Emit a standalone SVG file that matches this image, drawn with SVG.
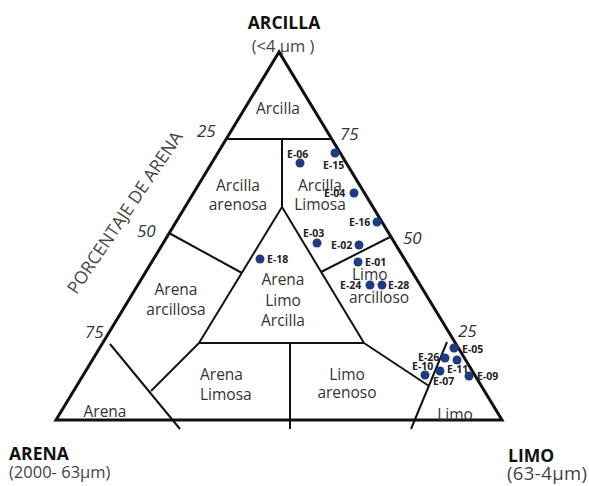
<svg xmlns="http://www.w3.org/2000/svg" width="589" height="486" viewBox="0 0 589 486">
<style>
.frame{fill:none;stroke:#111;stroke-width:3;stroke-linejoin:miter}
.ln{fill:none;stroke:#111;stroke-width:2;stroke-linecap:butt}
.ttl{font-family:"Open Sans","Liberation Sans",sans-serif;font-weight:bold;font-size:17.5px;fill:#111}
.sub{font-family:"Open Sans","Liberation Sans",sans-serif;font-size:16.5px;fill:#444}
.axis{font-family:"Open Sans","Liberation Sans",sans-serif;font-size:17.5px;fill:#444}
.num{font-family:"Open Sans","Liberation Sans",sans-serif;font-style:italic;font-size:17px;fill:#333}
.reg{font-family:"Open Sans","Liberation Sans",sans-serif;font-size:15.5px;fill:#333}
.dot{fill:#1f3b82}
.lbl{font-family:"Open Sans","Liberation Sans",sans-serif;font-weight:bold;font-size:10.5px;fill:#222}
</style>
<rect width="589" height="486" fill="#fff"/>

<g id="titles">
<text class="ttl" x="284" y="29" text-anchor="middle">ARCILLA</text>
<text class="sub" x="283" y="52" text-anchor="middle">(&lt;4 µm )</text>
<text class="ttl" x="9" y="460">ARENA</text>
<text class="sub" x="9" y="478">(2000- 63µm)</text>
<text class="ttl" x="508" y="462">LIMO</text>
<text class="sub" x="507" y="480" style="font-size:18.5px;letter-spacing:0.4px">(63-4µm)</text>
<text class="axis" transform="translate(130,216) rotate(-56)" text-anchor="middle">PORCENTAJE DE ARENA</text>
</g>

<g id="grid">
<polygon class="frame" points="279,52 56,420 502,420"/>
<line class="ln" x1="226" y1="139" x2="332" y2="139"/>
<line class="ln" x1="282" y1="139" x2="282" y2="207"/>
<line class="ln" x1="282" y1="207" x2="199" y2="343"/>
<line class="ln" x1="282" y1="207" x2="364" y2="343"/>
<line class="ln" x1="199" y1="343" x2="364" y2="343"/>
<line class="ln" x1="169" y1="233" x2="242" y2="273"/>
<line class="ln" x1="199" y1="343" x2="151" y2="391"/>
<line class="ln" x1="110" y1="344" x2="180" y2="429"/>
<line class="ln" x1="290" y1="343" x2="290" y2="429"/>
<line class="ln" x1="321" y1="272" x2="392" y2="236"/>
<line class="ln" x1="364" y1="343" x2="429" y2="386"/>
<line class="ln" x1="447" y1="342" x2="411" y2="429"/>
</g>

<g id="scale">
<text class="num" x="197" y="137">25</text>
<text class="num" x="137" y="237">50</text>
<text class="num" x="85" y="338">75</text>
<text class="num" x="340" y="140">75</text>
<text class="num" x="403" y="244">50</text>
<text class="num" x="458" y="337">25</text>
</g>

<g id="regions">
<text class="reg" x="278" y="114" text-anchor="middle">Arcilla</text>
<text class="reg" x="238" y="191" text-anchor="middle">Arcilla</text>
<text class="reg" x="238" y="210" text-anchor="middle">arenosa</text>
<text class="reg" x="320" y="191" text-anchor="middle">Arcilla</text>
<text class="reg" x="320" y="210" text-anchor="middle">Limosa</text>
<text class="reg" x="283" y="285" text-anchor="middle">Arena</text>
<text class="reg" x="283" y="306" text-anchor="middle">Limo</text>
<text class="reg" x="283" y="326" text-anchor="middle">Arcilla</text>
<text class="reg" x="352" y="280">Limo</text>
<text class="reg" x="349" y="303">arcilloso</text>
<text class="reg" x="176" y="295" text-anchor="middle">Arena</text>
<text class="reg" x="176" y="315" text-anchor="middle">arcillosa</text>
<text class="reg" x="200" y="380">Arena</text>
<text class="reg" x="200" y="400">Limosa</text>
<text class="reg" x="347" y="380" text-anchor="middle">Limo</text>
<text class="reg" x="347" y="398" text-anchor="middle">arenoso</text>
<text class="reg" x="105" y="417" text-anchor="middle">Arena</text>
<text class="reg" x="455" y="420" text-anchor="middle">Limo</text>
</g>

<g id="samples">
<circle class="dot" cx="300" cy="163" r="4.5"/>
<circle class="dot" cx="335" cy="153" r="4.5"/>
<circle class="dot" cx="354" cy="193" r="4.5"/>
<circle class="dot" cx="377" cy="222" r="4.5"/>
<circle class="dot" cx="317" cy="243" r="4.5"/>
<circle class="dot" cx="359" cy="245" r="4.5"/>
<circle class="dot" cx="358" cy="262" r="4.5"/>
<circle class="dot" cx="370" cy="285" r="4.5"/>
<circle class="dot" cx="382" cy="285" r="4.5"/>
<circle class="dot" cx="260" cy="259" r="4.5"/>
<circle class="dot" cx="454" cy="348" r="4.5"/>
<circle class="dot" cx="445" cy="358" r="4.5"/>
<circle class="dot" cx="457" cy="360" r="4.5"/>
<circle class="dot" cx="440" cy="371" r="4.5"/>
<circle class="dot" cx="425" cy="375" r="4.5"/>
<circle class="dot" cx="469" cy="376" r="4.5"/>
<text class="lbl" x="287" y="158">E-06</text>
<text class="lbl" x="323" y="169">E-15</text>
<text class="lbl" x="324" y="197">E-04</text>
<text class="lbl" x="349" y="226">E-16</text>
<text class="lbl" x="303" y="237">E-03</text>
<text class="lbl" x="331" y="249">E-02</text>
<text class="lbl" x="365" y="266">E-01</text>
<text class="lbl" x="340" y="289">E-24</text>
<text class="lbl" x="388" y="289">E-28</text>
<text class="lbl" x="267" y="263">E-18</text>
<text class="lbl" x="462" y="353">E-05</text>
<text class="lbl" x="418" y="361">E-26</text>
<text class="lbl" x="447" y="373">E-11</text>
<text class="lbl" x="412" y="370">E-10</text>
<text class="lbl" x="433" y="385">E-07</text>
<text class="lbl" x="477" y="380">E-09</text>
</g>
</svg>
